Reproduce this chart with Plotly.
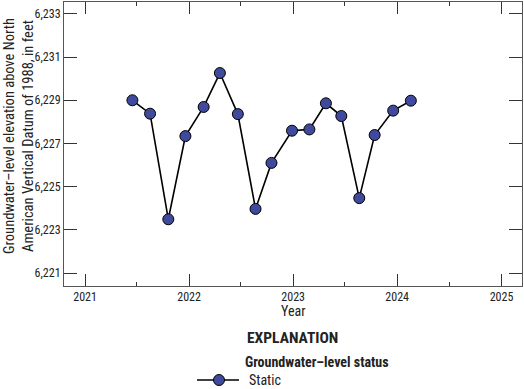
import plotly.graph_objects as go

dates = ["2021-06-16", "2021-08-17", "2021-10-20", "2021-12-19", "2022-02-21",
         "2022-04-19", "2022-06-21", "2022-08-22", "2022-10-17", "2022-12-28",
         "2023-02-27", "2023-04-26", "2023-06-19", "2023-08-21", "2023-10-14",
         "2023-12-18", "2024-02-18"]
levels = [6229.00, 6228.38, 6223.49, 6227.34, 6228.69,
          6230.26, 6228.36, 6223.97, 6226.10, 6227.59,
          6227.65, 6228.86, 6228.27, 6224.47, 6227.39,
          6228.52, 6228.98]
year_ticks = ["2021-01-01", "2022-01-01", "2023-01-01", "2024-01-01", "2025-01-01"]
year_labels = ["2021", "2022", "2023", "2024", "2025"]
y_ticks = [6221, 6223, 6225, 6227, 6229, 6231, 6233]

FONT = "Liberation Sans Narrow, Roboto Condensed, Arial Narrow, sans-serif"
MARK = "#3f4a9c"

fig = go.Figure()
fig.add_trace(go.Scatter(
    x=dates, y=levels, mode="lines+markers",
    line=dict(color="black", width=1.6),
    marker=dict(size=11, color=MARK, line=dict(color="black", width=1)),
    showlegend=False, hoverinfo="skip"))

W, H = 524, 389
L, R, T, B = 64, 2, 2, 103
fig.update_layout(
    width=W, height=H,
    margin=dict(l=L, r=R, t=T, b=B),
    plot_bgcolor="white", paper_bgcolor="white",
    font=dict(family=FONT, size=12, color="#222"),
    showlegend=False,
)
fig.update_xaxes(
    type="date", range=["2020-10-19", "2025-03-14"],
    tickmode="array", tickvals=year_ticks, ticktext=year_labels,
    ticks="inside", ticklen=12, tickcolor="#333", tickwidth=1,
    minor=dict(dtick="M6", tick0="2021-01-01", ticks="inside", ticklen=4,
               tickcolor="#333", tickwidth=1, showgrid=False),
    showline=True, linecolor="#555", linewidth=1, mirror="ticks",
    showgrid=False, zeroline=False, tickfont=dict(size=12),
)
fig.update_yaxes(
    range=[6220.4, 6233.55],
    tickmode="array", tickvals=y_ticks, tickformat=",d",
    ticks="inside", ticklen=13, tickcolor="#333", tickwidth=1,
    showline=True, linecolor="#555", linewidth=1, mirror="ticks",
    showgrid=False, zeroline=False, tickfont=dict(size=12),
)

pw, ph = W - L - R, H - T - B
def px(xp):
    return (xp - L) / pw
def py(yp):
    return (H - B - yp) / ph

fig.add_annotation(
    text="Groundwater\u2013level elevation above North<br>American Vertical Datum of 1988, in feet",
    x=px(19), y=py(136), xref="paper", yref="paper", textangle=-90,
    showarrow=False, font=dict(size=14.5, color="#222"), xanchor="center", yanchor="middle")
fig.add_annotation(text="Year", x=px(293), y=py(311), xref="paper", yref="paper",
                   showarrow=False, font=dict(size=14, color="#222"),
                   xanchor="center", yanchor="middle")
fig.add_annotation(text="<b>EXPLANATION</b>", x=px(292), y=py(338), xref="paper", yref="paper",
                   showarrow=False, font=dict(size=15.5, color="#222"),
                   xanchor="center", yanchor="middle")
fig.add_annotation(text="<b>Groundwater\u2013level status</b>", x=px(243), y=py(362),
                   xref="paper", yref="paper", xanchor="left", yanchor="middle",
                   showarrow=False, font=dict(size=14, color="#222"))
fig.add_annotation(text="Static", x=px(247), y=py(380),
                   xref="paper", yref="paper", xanchor="left", yanchor="middle",
                   showarrow=False, font=dict(size=14, color="#222"))
fig.add_shape(type="line", xref="paper", yref="paper",
              x0=px(197), x1=px(239), y0=py(380), y1=py(380),
              line=dict(color="black", width=1.6))
fig.add_shape(type="circle", xref="paper", yref="paper",
              x0=px(213.5), x1=px(224.5), y0=py(385.5), y1=py(374.5),
              fillcolor=MARK, line=dict(color="black", width=1))

fig.write_html("out.html", config={"displayModeBar": False},
               post_script="document.body.style.margin='0';document.body.style.padding='0';")
